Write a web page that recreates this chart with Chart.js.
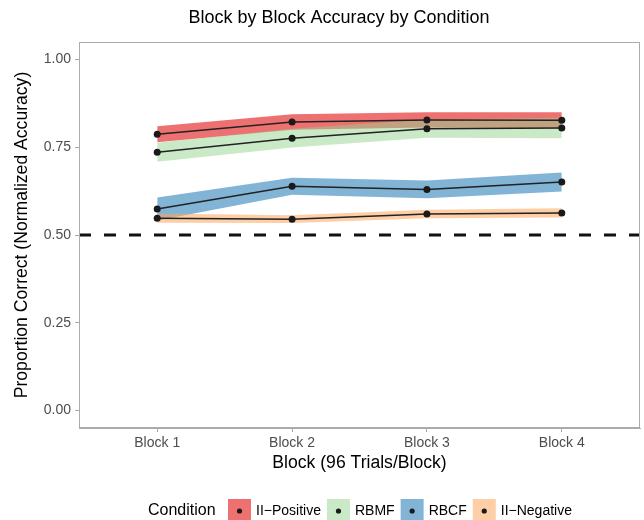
<!DOCTYPE html>
<html>
<head>
<meta charset="utf-8">
<script src="https://cdn.jsdelivr.net/npm/chart.js@4"></script>
<style>
  body { margin: 0; background: #fff; }
  canvas { display: block; }
</style>
</head>
<body>
<canvas id="chart" width="644" height="520"></canvas>
<script>
const blockLabels = ['Block 1', 'Block 2', 'Block 3', 'Block 4'];
const blockPos = [1, 2, 3, 4];
const yTicks = [0, 0.25, 0.5, 0.75, 1];
const conditions = ['II−Positive', 'RBMF', 'RBCF', 'II−Negative'];

const positiveMean = [0.787, 0.822, 0.828, 0.827];
const positiveErr = [0.023, 0.022, 0.022, 0.023];
const rbmfMean = [0.736, 0.776, 0.803, 0.805];
const rbmfErr = [0.027, 0.027, 0.026, 0.029];
const rbcfMean = [0.574, 0.639, 0.630, 0.651];
const rbcfErr = [0.033, 0.024, 0.025, 0.027];
const negativeMean = [0.548, 0.545, 0.560, 0.563];
const negativeErr = [0.013, 0.011, 0.012, 0.013];
const chanceLevel = 0.5;

const means = [positiveMean, rbmfMean, rbcfMean, negativeMean];
const errs = [positiveErr, rbmfErr, rbcfErr, negativeErr];
const fills = ['rgba(228,26,28,0.62)', 'rgba(150,212,144,0.5)', 'rgba(40,125,185,0.58)', 'rgba(253,166,92,0.55)'];

const X_MIN = 0.42, X_MAX = 4.58;
const FONT = "'Liberation Sans', Arial, sans-serif";

const pts = (arr) => arr.map((v, i) => ({x: blockPos[i], y: v}));

const datasets = [];
means.forEach((m, k) => {
  const lo = m.map((v, i) => v - errs[k][i]);
  const hi = m.map((v, i) => v + errs[k][i]);
  datasets.push({data: pts(lo), borderWidth: 0, pointRadius: 0, fill: false, order: 10 - k});
  datasets.push({data: pts(hi), borderWidth: 0, pointRadius: 0, fill: '-1', backgroundColor: fills[k], order: 10 - k});
});
means.forEach((m) => {
  datasets.push({data: pts(m), borderColor: '#222', borderWidth: 1.5, pointRadius: 3.5,
    pointBackgroundColor: '#1a1a1a', pointBorderWidth: 0, fill: false, order: 1});
});
datasets.push({data: [{x: X_MIN, y: chanceLevel}, {x: X_MAX, y: chanceLevel}], borderColor: '#111',
  borderWidth: 3, borderDash: [12, 13], pointRadius: 0, fill: false, order: 0});

const extras = {
  id: 'extras',
  afterDraw(chart) {
    const ctx = chart.ctx, a = chart.chartArea;
    ctx.save();
    // panel border
    ctx.strokeStyle = '#ababab';
    ctx.lineWidth = 1;
    ctx.strokeRect(a.left + 0.5, a.top + 0.5, a.right - a.left - 1, a.bottom - a.top - 1);

    ctx.fillStyle = '#000';
    ctx.textBaseline = 'middle';
    ctx.textAlign = 'center';
    ctx.font = '18px ' + FONT;
    ctx.fillText('Block by Block Accuracy by Condition', 339, 18);

    ctx.font = '17.6px ' + FONT;
    ctx.fillText('Block (96 Trials/Block)', (a.left + a.right) / 2, 463);

    ctx.save();
    ctx.translate(22, (a.top + a.bottom) / 2);
    ctx.rotate(-Math.PI / 2);
    ctx.fillText('Proportion Correct (Normalized Accuracy)', 0, 0);
    ctx.restore();

    // legend
    ctx.textAlign = 'left';
    ctx.font = '16px ' + FONT;
    ctx.fillText('Condition', 148, 511);
    let x = 228;
    ctx.font = '14px ' + FONT;
    conditions.forEach((c, k) => {
      ctx.fillStyle = fills[k];
      ctx.fillRect(x, 499, 23, 23);
      ctx.fillStyle = '#1a1a1a';
      ctx.beginPath();
      ctx.arc(x + 11.5, 511, 2.6, 0, Math.PI * 2);
      ctx.fill();
      ctx.fillStyle = '#000';
      ctx.fillText(c, x + 28, 511);
      x += 23 + 5 + ctx.measureText(c).width + 6;
    });
    ctx.restore();
  }
};

new Chart(document.getElementById('chart'), {
  type: 'line',
  data: {datasets},
  plugins: [extras],
  options: {
    responsive: false,
    animation: false,
    devicePixelRatio: 1,
    layout: {padding: {top: 42, right: 3, left: 0, bottom: 0}},
    plugins: {legend: {display: false}, tooltip: {enabled: false}},
    elements: {line: {tension: 0}},
    scales: {
      x: {
        type: 'linear', min: X_MIN, max: X_MAX,
        afterBuildTicks: (s) => { s.ticks = blockPos.map(v => ({value: v})); },
        afterFit: (s) => { s.height = 92; },
        ticks: {callback: (v) => blockLabels[blockPos.indexOf(v)], color: '#4d4d4d', font: {size: 14, family: FONT}, padding: 3, maxRotation: 0},
        grid: {drawOnChartArea: false, tickLength: 4, color: '#ababab'},
        border: {color: '#ababab'}
      },
      y: {
        type: 'linear', min: -0.05, max: 1.05,
        afterBuildTicks: (s) => { s.ticks = yTicks.map(v => ({value: v})); },
        afterFit: (s) => { s.width = 79; },
        ticks: {callback: (v) => v.toFixed(2), color: '#4d4d4d', font: {size: 14, family: FONT}, padding: 4},
        grid: {drawOnChartArea: false, tickLength: 4, color: '#ababab'},
        border: {color: '#ababab'}
      }
    }
  }
});
</script>
</body>
</html>
